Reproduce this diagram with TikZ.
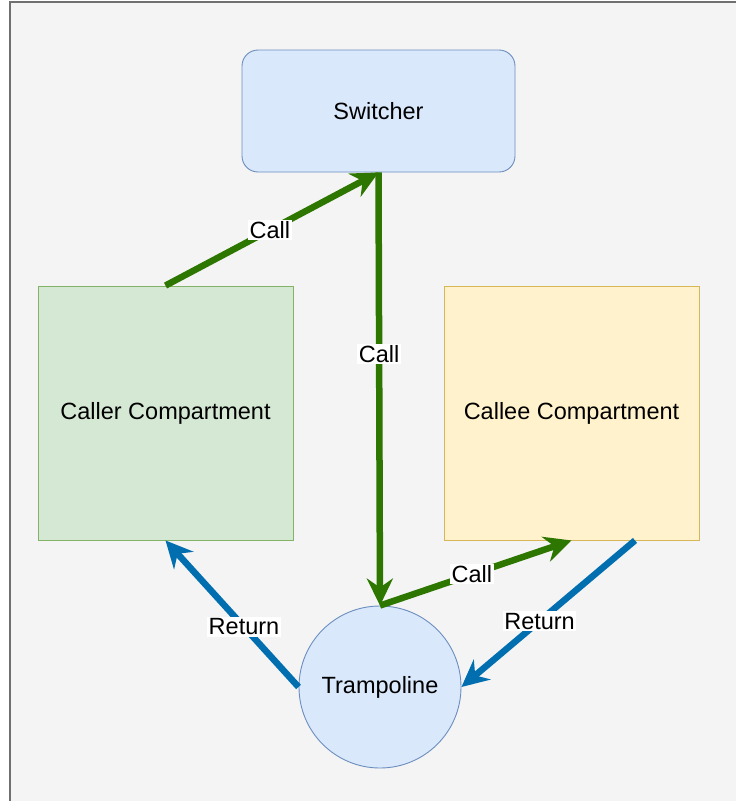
\documentclass[tikz,border=0pt]{standalone}
\usepackage{fontspec}
\setmainfont{Liberation Sans}
\usetikzlibrary{arrows.meta}
\definecolor{bgc}{HTML}{F4F4F4}
\definecolor{framec}{HTML}{707070}
\definecolor{bluefill}{HTML}{DAE8FC}
\definecolor{bluedraw}{HTML}{6C8EBF}
\definecolor{greenfill}{HTML}{D5E8D4}
\definecolor{greendraw}{HTML}{82B366}
\definecolor{yellowfill}{HTML}{FFF2CC}
\definecolor{yellowdraw}{HTML}{D6B656}
\definecolor{callc}{HTML}{2D7600}
\definecolor{retc}{HTML}{006EAF}
\tikzset{
  boxtext/.style={font=\fontsize{23.5}{28}\selectfont, text=black},
  bluebox/.style={boxtext, draw=bluedraw, fill=bluefill, line width=0.9pt},
  greenbox/.style={boxtext, draw=greendraw, fill=greenfill, line width=0.9pt},
  yellowbox/.style={boxtext, draw=yellowdraw, fill=yellowfill, line width=0.9pt},
  callarrow/.style={draw=callc, line width=6.5pt, -{Stealth[length=27pt,width=26pt,inset=9pt]}},
  retarrow/.style={draw=retc, line width=6.5pt, -{Stealth[length=27pt,width=26pt,inset=9pt]}},
  lbl/.style={font=\fontsize{23.5}{28}\selectfont, fill=white, inner sep=1.5pt, text=black}
}
\begin{document}
\begin{tikzpicture}[x=1pt,y=-1pt]
\useasboundingbox (0,0) rectangle (736,801);
\fill[bgc] (10,2) rectangle (736,801);
\draw[framec, line width=1.2pt] (10,801) -- (10,2) -- (736,2);

\node[bluebox, rectangle, rounded corners=16pt, minimum width=273pt, minimum height=122pt] (switcher) at (378.5,111) {Switcher};
\node[greenbox, rectangle, minimum width=255pt, minimum height=254pt] (caller) at (165.5,413) {Caller Compartment};
\node[yellowbox, rectangle, minimum width=255pt, minimum height=254pt] (callee) at (571.5,413) {Callee Compartment};
\node[bluebox, circle, minimum size=162pt, inner sep=0pt] (tramp) at (380,687) {Trampoline};
\coordinate (calleeout) at ([xshift=63.5pt]callee.south);

\draw[callarrow] (caller.north) -- node[lbl, pos=0.49] (l1) {Call} (switcher.south);
\draw[callarrow] (switcher.south) -- node[lbl, pos=0.42] (l2) {Call} (tramp.north);
\draw[callarrow] (tramp.north) -- node[lbl, pos=0.48] (l3) {Call} (callee.south);
\draw[retarrow] (tramp.west) -- node[lbl, pos=0.41] (l4) {Return} (caller.south);
\draw[retarrow] (calleeout) -- node[lbl, pos=0.55] (l5) {Return} (tramp.east);
\end{tikzpicture}
\end{document}
